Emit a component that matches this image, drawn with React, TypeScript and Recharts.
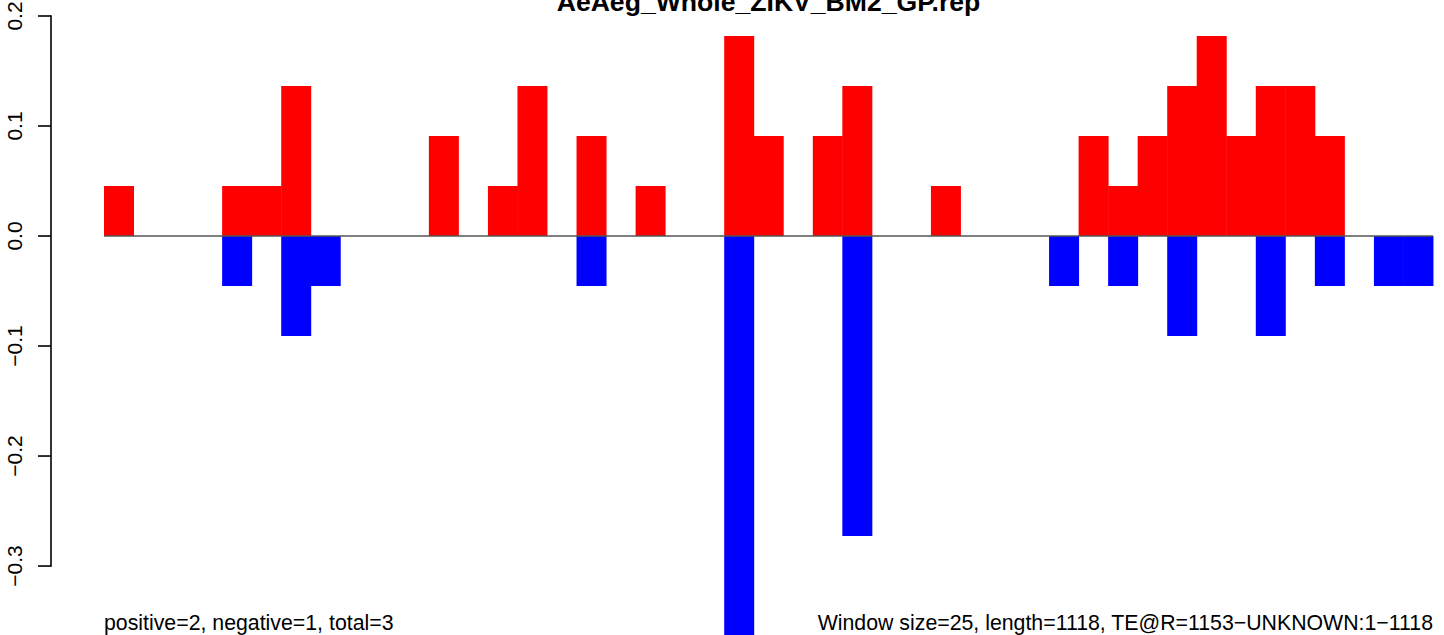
import { ComposedChart, Bar, XAxis, YAxis } from 'recharts'

// sliding windows along the element (45 windows of 25bp)
const windows = [
  '1', '2', '3', '4', '5', '6', '7', '8', '9', '10',
  '11', '12', '13', '14', '15', '16', '17', '18', '19', '20',
  '21', '22', '23', '24', '25', '26', '27', '28', '29', '30',
  '31', '32', '33', '34', '35', '36', '37', '38', '39', '40',
  '41', '42', '43', '44', '45',
]

const positive = [
  0.0455, 0, 0, 0, 0.0455, 0.0455, 0.1364, 0, 0, 0,
  0, 0.0909, 0, 0.0455, 0.1364, 0, 0.0909, 0, 0.0455, 0,
  0, 0.1818, 0.0909, 0, 0.0909, 0.1364, 0, 0, 0.0455, 0,
  0, 0, 0, 0.0909, 0.0455, 0.0909, 0.1364, 0.1818, 0.0909, 0.1364,
  0.1364, 0.0909, 0, 0, 0,
]

const negative = [
  0, 0, 0, 0, -0.0455, 0, -0.0909, -0.0455, 0, 0,
  0, 0, 0, 0, 0, 0, -0.0455, 0, 0, 0,
  0, -0.3636, 0, 0, 0, -0.2727, 0, 0, 0, 0,
  0, 0, -0.0455, 0, -0.0455, 0, -0.0909, 0, 0, -0.0909,
  0, -0.0455, 0, -0.0455, -0.0455,
]

const yTicks = [-0.3, -0.2, -0.1, 0, 0.1, 0.2]

const title = 'AeAeg_Whole_ZIKV_BM2_GP.rep'
const leftNote = 'positive=2, negative=1, total=3'
const rightNote = 'Window size=25, length=1118, TE@R=1153\u2212UNKNOWN:1\u22121118'

const data = windows.map((w, i) => ({ w, pos: positive[i], neg: negative[i] }))

const W = 1444
const H = 636
const TOP = 16
const RIGHT = 11
const AXIS_X = 51
const PLOT_LEFT = 104
const Y_MIN = -0.3636
const Y_MAX = 0.2
const PX_PER_UNIT = (H - TOP) / (Y_MAX - Y_MIN)
const FONT = '"Liberation Sans", Arial, Helvetica, sans-serif'

function YTick(props: any) {
  const { y, payload } = props
  const v: number = payload.value
  const label = v.toFixed(1).replace('-', '\u2212')
  const axisLen = (yTicks[yTicks.length - 1] - yTicks[0]) * PX_PER_UNIT
  return (
    <g>
      {v === 0 && (
        <line x1={PLOT_LEFT} x2={W - RIGHT} y1={y} y2={y} stroke="#555" strokeWidth={1.5} />
      )}
      <line x1={AXIS_X - 13} x2={AXIS_X} y1={y} y2={y} stroke="#000" strokeWidth={1.6} />
      {v === yTicks[0] && (
        <line x1={AXIS_X} x2={AXIS_X} y1={y + 0.8} y2={y - axisLen - 0.8} stroke="#000" strokeWidth={1.6} />
      )}
      <text
        x={22}
        y={y}
        transform={`rotate(-90, 22, ${y})`}
        textAnchor="middle"
        fontFamily={FONT}
        fontSize={21}
        fill="#000"
      >
        {label}
      </text>
    </g>
  )
}

export default function App() {
  return (
    <div style={{ position: 'absolute', left: 0, top: 0, width: W, height: 635, background: '#fff', overflow: 'hidden' }}>
      <ComposedChart
        width={W}
        height={H}
        data={data}
        stackOffset="sign"
        barCategoryGap={0}
        barGap={0}
        margin={{ top: TOP, right: RIGHT, bottom: 0, left: 0 }}
      >
        <XAxis dataKey="w" hide />
        <YAxis
          width={PLOT_LEFT}
          domain={[Y_MIN, Y_MAX]}
          ticks={yTicks}
          axisLine={false}
          tickLine={false}
          tick={<YTick />}
          interval={0}
        />
        <Bar dataKey="pos" stackId="s" fill="#ff0000" isAnimationActive={false} />
        <Bar dataKey="neg" stackId="s" fill="#0000ff" isAnimationActive={false} />
      </ComposedChart>
      <svg width={W} height={635} style={{ position: 'absolute', left: 0, top: 0, pointerEvents: 'none' }}>
        <text x={768.5} y={11} textAnchor="middle" fontFamily={FONT} fontWeight="bold" fontSize={26.6} fill="#000">
          {title}
        </text>
        <text x={104} y={630} fontFamily={FONT} fontSize={21.3} fill="#000">
          {leftNote}
        </text>
        <text x={1433} y={630} textAnchor="end" fontFamily={FONT} fontSize={21.3} fill="#000">
          {rightNote}
        </text>
      </svg>
    </div>
  )
}
